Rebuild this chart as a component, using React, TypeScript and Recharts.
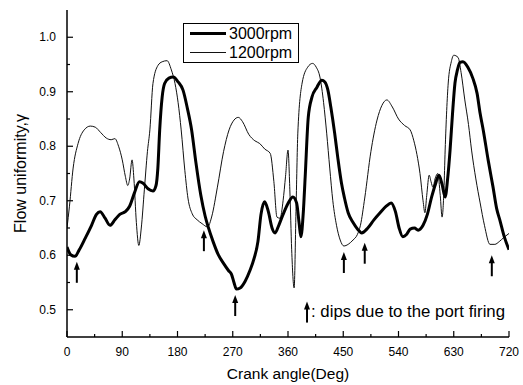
import {
  ComposedChart,
  Line,
  Scatter,
  XAxis,
  YAxis,
} from "recharts";

// crank angle (deg) / flow uniformity
const angle3000 = [
  0, 6, 13, 20, 30, 40, 48, 54, 62, 70, 78, 86, 95, 102, 110, 118, 124, 132, 140, 145,
  148, 151, 155, 159, 166, 173, 181, 189, 196, 203, 210, 218, 225, 230, 238, 246, 255, 263, 268, 272,
  276, 282, 290, 298, 305, 311, 316, 322, 328, 334, 339, 345, 352, 360, 368, 374, 378, 381, 385, 388,
  393, 399, 407, 415, 420, 425, 430, 436, 441, 447, 452, 458, 466, 474, 480, 490, 500, 510, 520, 528,
  535, 541, 547, 553, 559, 566, 572, 580, 587, 594, 600, 606, 611, 616, 620, 624, 628, 632, 636, 640,
  645, 653, 661, 668, 673, 678, 686, 694, 700, 705, 712, 720,
];
const uniformity3000 = [
  0.615, 0.601, 0.598, 0.61, 0.632, 0.655, 0.675, 0.68, 0.668, 0.655, 0.665, 0.675, 0.68, 0.69, 0.715, 0.735, 0.732, 0.722, 0.718, 0.728,
  0.76, 0.83, 0.89, 0.915, 0.925, 0.927, 0.918, 0.903, 0.87, 0.83, 0.77, 0.71, 0.672, 0.652, 0.625, 0.602, 0.585, 0.572, 0.565, 0.55,
  0.538, 0.54, 0.552, 0.572, 0.595, 0.625, 0.675, 0.698, 0.68, 0.65, 0.641, 0.655, 0.675, 0.695, 0.707, 0.696, 0.66, 0.634, 0.68, 0.744,
  0.853, 0.89, 0.908, 0.921, 0.918, 0.903, 0.87, 0.824, 0.78, 0.733, 0.705, 0.678, 0.66, 0.647, 0.641, 0.65, 0.665, 0.678, 0.69, 0.696,
  0.68, 0.65, 0.634, 0.638, 0.648, 0.65, 0.646, 0.655, 0.675, 0.707, 0.73, 0.747, 0.73, 0.707, 0.74, 0.793, 0.86, 0.916, 0.94, 0.954,
  0.955, 0.945, 0.925, 0.897, 0.86, 0.83, 0.775, 0.725, 0.685, 0.665, 0.635, 0.61,
];

const angle1200 = [
  0, 4, 10, 18, 28, 38, 46, 55, 64, 72, 78, 84, 90, 95, 99, 102, 106, 109, 113, 117,
  121, 126, 131, 135, 140, 148, 155, 163, 170, 176, 181, 186, 192, 197, 204, 212, 220, 229, 236, 245,
  255, 264, 272, 279, 286, 296, 306, 314, 322, 331, 337, 342, 347, 352, 356, 360, 363, 366, 370, 373,
  376, 383, 392, 400, 406, 412, 418, 423, 428, 433, 439, 445, 451, 458, 466, 473, 478, 485, 495, 505,
  513, 521, 530, 540, 550, 559, 565, 570, 575, 580, 583, 586, 590, 593, 596, 600, 604, 608, 611, 614,
  616, 621, 626, 630, 637, 642, 648, 654, 659, 666, 673, 680, 689, 697, 704, 712, 720,
];
const uniformity1200 = [
  0.65, 0.69, 0.76, 0.805, 0.83, 0.837, 0.835, 0.825, 0.815, 0.812, 0.814, 0.8, 0.775, 0.745, 0.728, 0.74, 0.775, 0.74, 0.66, 0.618,
  0.65, 0.72, 0.79, 0.83, 0.915, 0.948, 0.955, 0.957, 0.94, 0.915, 0.88, 0.83, 0.755, 0.705, 0.676, 0.665, 0.658, 0.652, 0.672, 0.725,
  0.79, 0.83, 0.848, 0.853, 0.845, 0.822, 0.81, 0.805, 0.795, 0.787, 0.735, 0.67, 0.668, 0.7, 0.745, 0.793, 0.72, 0.61, 0.54, 0.68,
  0.824, 0.916, 0.945, 0.952, 0.945, 0.927, 0.88, 0.824, 0.76, 0.7, 0.655, 0.628, 0.617, 0.62, 0.628, 0.638, 0.655, 0.705, 0.79, 0.848,
  0.875, 0.885, 0.872, 0.85, 0.838, 0.83, 0.81, 0.785, 0.75, 0.7, 0.678, 0.71, 0.747, 0.735, 0.725, 0.742, 0.75, 0.71, 0.67, 0.72,
  0.793, 0.916, 0.955, 0.967, 0.963, 0.935, 0.885, 0.84, 0.793, 0.74, 0.696, 0.655, 0.62, 0.62, 0.625, 0.633, 0.64,
];

// "dips due to the port firing" arrows: angle and arrow tip
const dipAngles = [16, 223, 274, 451, 485, 692, 391];
const dipTips = [0.588, 0.646, 0.527, 0.606, 0.623, 0.6, 0.515];

const xTicks = [0, 45, 90, 135, 180, 225, 270, 315, 360, 405, 450, 495, 540, 585, 630, 675, 720];
const yTicks = [0.5, 0.55, 0.6, 0.65, 0.7, 0.75, 0.8, 0.85, 0.9, 0.95, 1.0];

const data3000 = angle3000.map((deg, i) => ({ deg, v: uniformity3000[i] }));
const data1200 = angle1200.map((deg, i) => ({ deg, v: uniformity1200[i] }));
const dipData = dipAngles.map((deg, i) => ({ deg, v: dipTips[i] }));

const FONT = '"Liberation Sans", Arial, sans-serif';
const isMajorY = (v: number) => Math.round(v * 100) % 10 === 0;

function BottomTick({ x, y, payload }: any) {
  const major = payload.value % 90 === 0;
  return (
    <g>
      <line x1={x} y1={y} x2={x} y2={y - (major ? 6 : 3)} stroke="#000" strokeWidth={1.2} />
      {major && (
        <text x={x} y={y + 19} textAnchor="middle" fontSize={12} fontFamily={FONT} fill="#000">
          {payload.value}
        </text>
      )}
    </g>
  );
}

function TopTick({ x, y }: any) {
  return <line x1={x} y1={y} x2={x} y2={y + 4} stroke="#000" strokeWidth={1.2} />;
}

function LeftTick({ x, y, payload }: any) {
  const major = isMajorY(payload.value);
  return (
    <g>
      <line x1={x} y1={y} x2={x + (major ? 6 : 3)} y2={y} stroke="#000" strokeWidth={1.2} />
      {major && (
        <text x={x - 11} y={y + 4} textAnchor="end" fontSize={12} fontFamily={FONT} fill="#000">
          {payload.value.toFixed(1)}
        </text>
      )}
    </g>
  );
}

function RightTick({ x, y }: any) {
  return <line x1={x} y1={y} x2={x - 4} y2={y} stroke="#000" strokeWidth={1.2} />;
}

function DipArrow({ cx, cy }: any) {
  return (
    <g>
      <line x1={cx} y1={cy + 5} x2={cx} y2={cy + 21} stroke="#000" strokeWidth={2} />
      <path d={`M${cx},${cy} L${cx - 3},${cy + 8} L${cx + 3},${cy + 8} Z`} fill="#000" />
    </g>
  );
}

export default function App() {
  return (
    <div style={{ position: "absolute", left: 0, top: 0, width: 523, height: 385, background: "#fff" }}>
      <ComposedChart
        width={523}
        height={385}
        margin={{ top: 10, right: 14, bottom: 0, left: 0 }}
      >
        <XAxis
          dataKey="deg"
          type="number"
          domain={[0, 720]}
          ticks={xTicks}
          interval={0}
          allowDataOverflow
          height={48}
          tickSize={0}
          tickMargin={0}
          tick={<BottomTick />}
          axisLine={{ stroke: "#000", strokeWidth: 1.5 }}
          label={{
            value: "Crank angle(Deg)",
            position: "insideBottom",
            offset: 6,
            fontSize: 15.5,
            fontFamily: FONT,
            fill: "#000",
          }}
        />
        <XAxis
          xAxisId="top"
          orientation="top"
          dataKey="deg"
          type="number"
          domain={[0, 720]}
          ticks={xTicks}
          interval={0}
          height={0}
          tickSize={0}
          tickMargin={0}
          tick={<TopTick />}
          axisLine={{ stroke: "#000", strokeWidth: 1.5 }}
        />
        <YAxis
          dataKey="v"
          type="number"
          domain={[0.45, 1.05]}
          ticks={yTicks}
          interval={0}
          allowDataOverflow
          width={67}
          tickSize={0}
          tickMargin={0}
          tick={<LeftTick />}
          axisLine={{ stroke: "#000", strokeWidth: 1.5 }}
          label={{
            value: "Flow uniformity,γ",
            angle: -90,
            position: "insideLeft",
            offset: 20,
            style: { textAnchor: "middle" },
            fontSize: 16,
            fontFamily: FONT,
            fill: "#000",
          }}
        />
        <YAxis
          yAxisId="right"
          orientation="right"
          type="number"
          domain={[0.45, 1.05]}
          ticks={yTicks}
          interval={0}
          width={0}
          tickSize={0}
          tickMargin={0}
          tick={<RightTick />}
          axisLine={{ stroke: "#000", strokeWidth: 1.5 }}
        />
        <Line
          data={data1200}
          dataKey="v"
          type="monotone"
          stroke="#111"
          strokeWidth={1}
          dot={false}
          isAnimationActive={false}
        />
        <Line
          data={data3000}
          dataKey="v"
          type="monotone"
          stroke="#000"
          strokeWidth={3}
          dot={false}
          isAnimationActive={false}
        />
        <Scatter
          data={dipData}
          dataKey="v"
          shape={<DipArrow />}
          isAnimationActive={false}
        />
      </ComposedChart>

      <div
        style={{
          position: "absolute",
          left: 183,
          top: 23,
          width: 114,
          height: 38,
          border: "1px solid #000",
          background: "#fff",
          fontFamily: FONT,
          fontSize: 16,
          color: "#000",
          boxSizing: "content-box",
        }}
      >
        <div style={{ display: "flex", alignItems: "center", height: 19 }}>
          <div style={{ width: 36, height: 3, background: "#000", marginLeft: 6, marginRight: 3 }} />
          <span>3000rpm</span>
        </div>
        <div style={{ display: "flex", alignItems: "center", height: 19 }}>
          <div style={{ width: 36, height: 1, background: "#111", marginLeft: 6, marginRight: 3 }} />
          <span>1200rpm</span>
        </div>
      </div>

      <div
        style={{
          position: "absolute",
          left: 311,
          top: 302,
          fontFamily: FONT,
          fontSize: 16.8,
          color: "#000",
          whiteSpace: "nowrap",
        }}
      >
        : dips due to the port firing
      </div>
    </div>
  );
}
